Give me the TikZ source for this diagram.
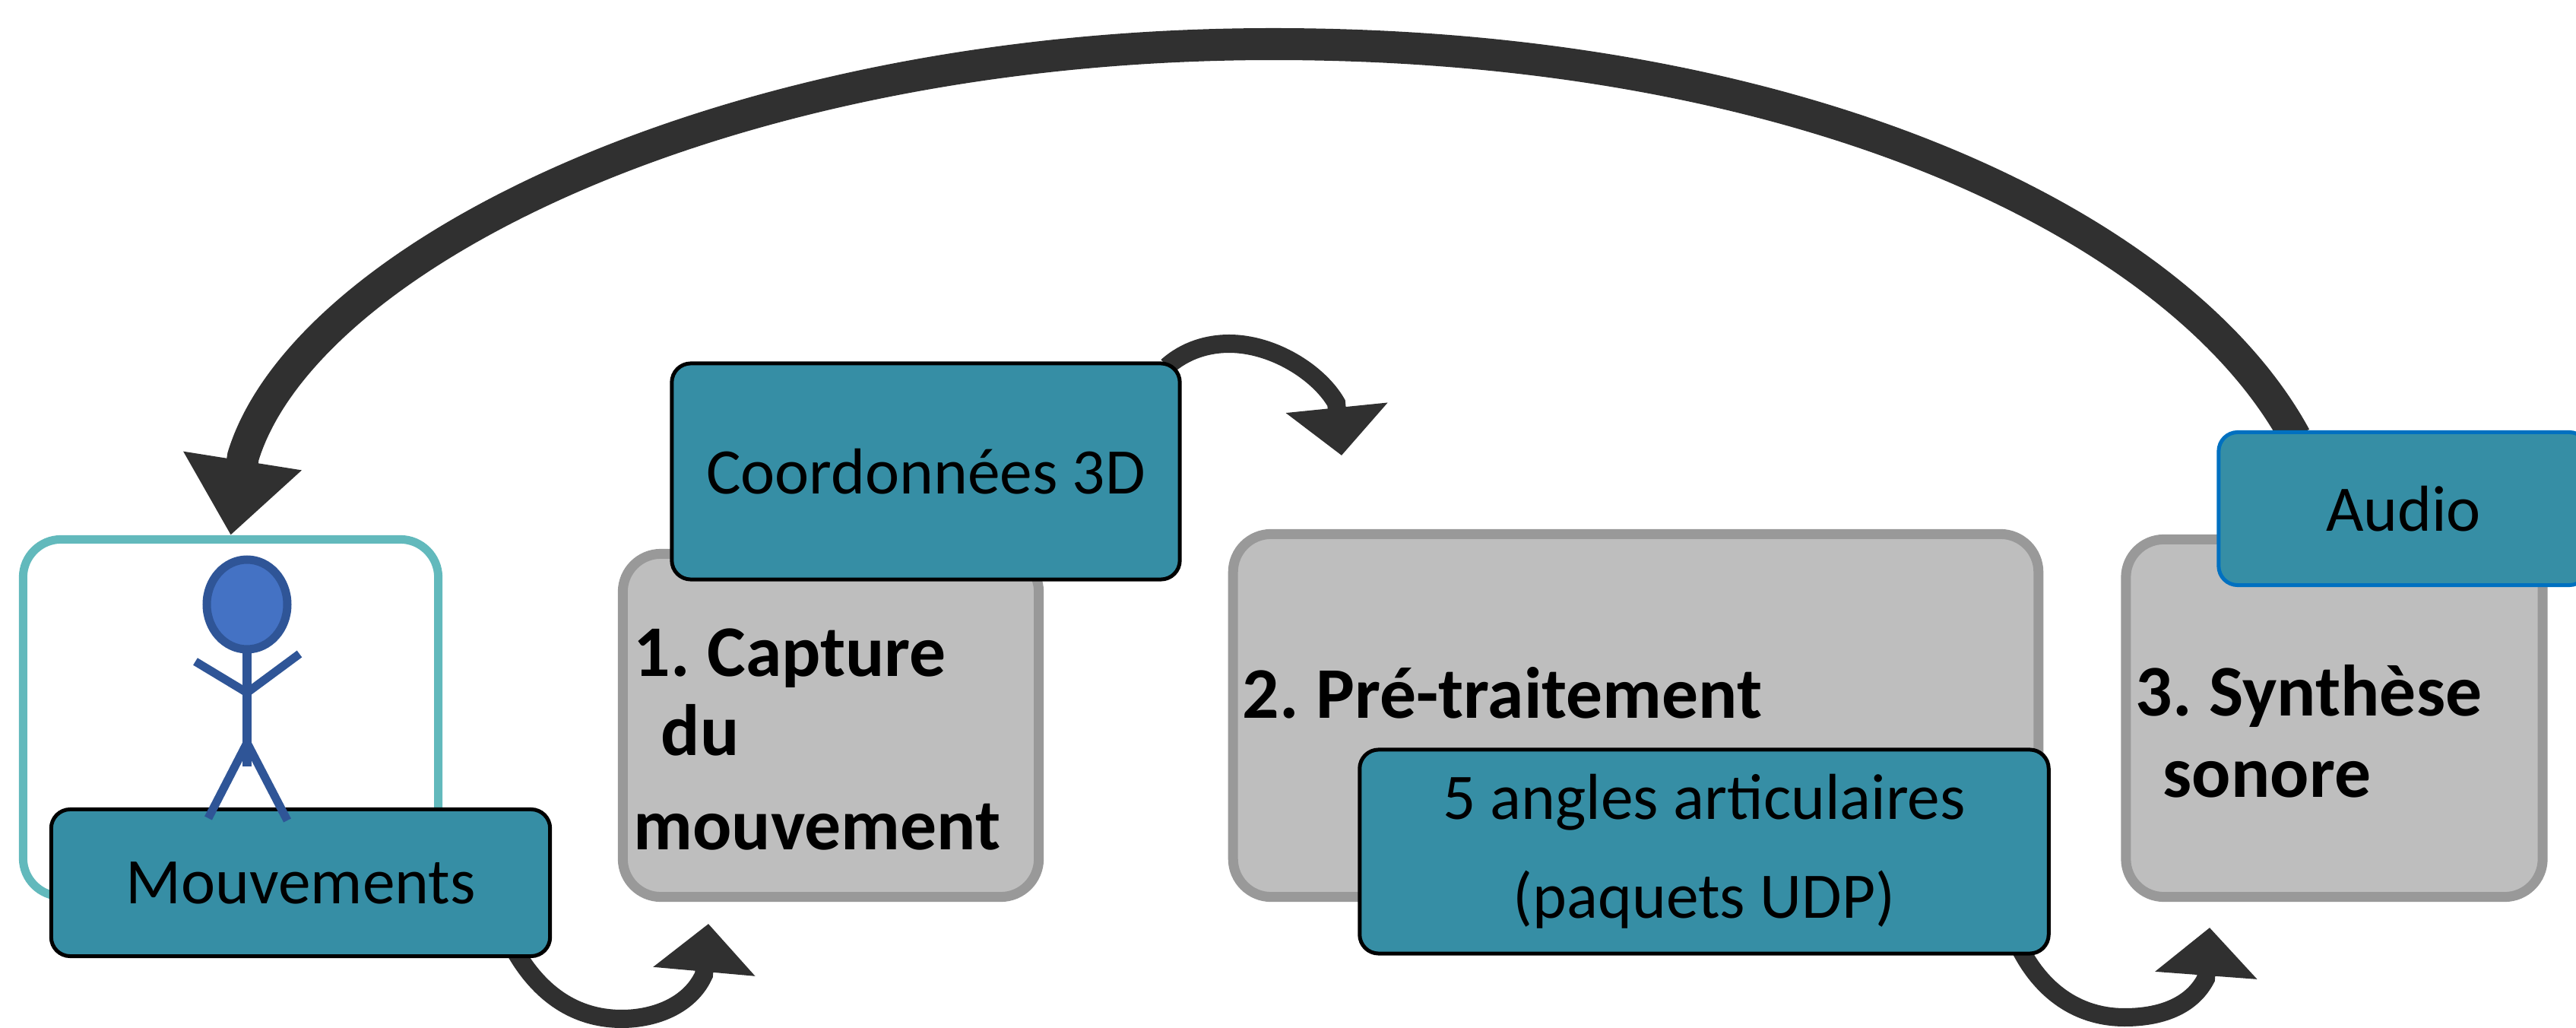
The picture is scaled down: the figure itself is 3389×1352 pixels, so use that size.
\documentclass[tikz,border=0pt]{standalone}
\usepackage{fontspec}
\setmainfont{Carlito}
\usetikzlibrary{arrows.meta, backgrounds}
\definecolor{tealbox}{HTML}{368EA5}
\definecolor{framecol}{HTML}{62B9BC}
\definecolor{greyfill}{HTML}{BEBEBE}
\definecolor{greyline}{HTML}{999999}
\definecolor{darkarrow}{HTML}{303030}
\definecolor{manline}{HTML}{2F5597}
\definecolor{manfill}{HTML}{4472C4}
\definecolor{audioline}{HTML}{0070C0}
\tikzset{
  framebox/.style={draw=framecol, line width=0.11cm, rounded corners=0.5cm, fill=white},
  stagebox/.style={draw=greyline, fill=greyfill, line width=0.13cm, rounded corners=0.5cm},
  databox/.style={draw=black, fill=tealbox, line width=0.05cm, rounded corners=0.25cm,
    font=\fontsize{24.3}{37}\selectfont, align=center},
  stagetext/.style={anchor=base west, font=\fontsize{27.2}{29.6}\selectfont\bfseries, align=left, inner sep=0pt},
  smallflow/.style={draw=darkarrow, line width=0.24cm, shorten <=-0.1cm,
    -{Triangle[length=0.63cm, width=1.31cm]}},
  bigflow/.style={draw=darkarrow, line width=0.42cm, shorten <=-0.1cm,
    -{Triangle[length=0.99cm, width=1.51cm]}},
  manlimb/.style={draw=manline, line width=0.11cm}
}
\begin{document}
\begin{tikzpicture}[x=0.01cm, y=-0.01cm]
  \clip (0, 0) rectangle (3389, 1352);
  \node[framebox, minimum width=5.46cm, minimum height=4.69cm] (person) at (303.5, 944) {};
  \node[stagebox, minimum width=5.47cm, minimum height=4.51cm] (capture) at (1093, 954) {};
  \node[stagebox, minimum width=10.59cm, minimum height=4.77cm] (pretraitement) at (2152, 941) {};
  \node[stagebox, minimum width=5.48cm, minimum height=4.70cm] (synthese) at (3071, 944.5) {};
  \node[databox, minimum width=6.56cm, minimum height=1.93cm] (mouvements) at (395.5, 1161) {Mouvements};
  \node[databox, minimum width=6.68cm, minimum height=2.84cm] (coordonnees) at (1218, 620) {Coordonnées 3D};
  \node[databox, minimum width=9.06cm, minimum height=2.68cm] (angles) at (2242, 1120) {5 angles articulaires\\(paquets UDP)};
  \node[databox, draw=audioline, minimum width=4.86cm, minimum height=2.01cm] (audio) at (3162, 669) {Audio};
  \node[stagetext] (capturetext) at (833, 1117) {1.\hspace{-0.06cm} Capture\\[0pt]\hspace{0.36cm}du\\[5.4pt]mouvement};
  \node[stagetext] (pretext) at (1634, 945) {2.\hspace{-0.06cm} Pré-traitement};
  \node[stagetext] (synthesetext) at (2809, 1048) {3.\hspace{-0.06cm} Synthèse\\[0.8pt]\hspace{0.36cm}sonore};
  \coordinate (capturein) at (932, 1215);
  \coordinate (pretraitementin) at (1765, 599);
  \coordinate (syntheseain) at (2907, 1220);
  \begin{scope}[on background layer]
    \draw[bigflow] (audio.145) .. controls (2870, 300) and (2380, 58) .. (1675, 58)
      .. controls (950, 58) and (400, 340) .. (320, 600) -- (person.north);
    \draw[smallflow] (mouvements.-19) .. controls (715, 1315) and (765, 1340) .. (818, 1340)
      .. controls (862, 1340) and (908, 1322) .. (926, 1282) -- (capturein);
    \draw[smallflow] (coordonnees.24) .. controls (1560, 460) and (1590, 452) .. (1617, 452)
      .. controls (1675, 452) and (1735, 490) .. (1758, 530) -- (pretraitementin);
    \draw[smallflow] (angles.-18) .. controls (2690, 1310) and (2740, 1338) .. (2795, 1338)
      .. controls (2848, 1338) and (2885, 1320) .. (2902, 1287) -- (syntheseain);
  \end{scope}
  \draw[manlimb, fill=manfill] (325, 795) ellipse [x radius=53, y radius=59];
  \draw[manlimb] (325, 854) -- (325, 1008);
  \draw[manlimb] (257, 870) -- (325, 911) -- (394, 860);
  \draw[manlimb] (274, 1076) -- (325, 977) -- (378, 1079);
\end{tikzpicture}
\end{document}
